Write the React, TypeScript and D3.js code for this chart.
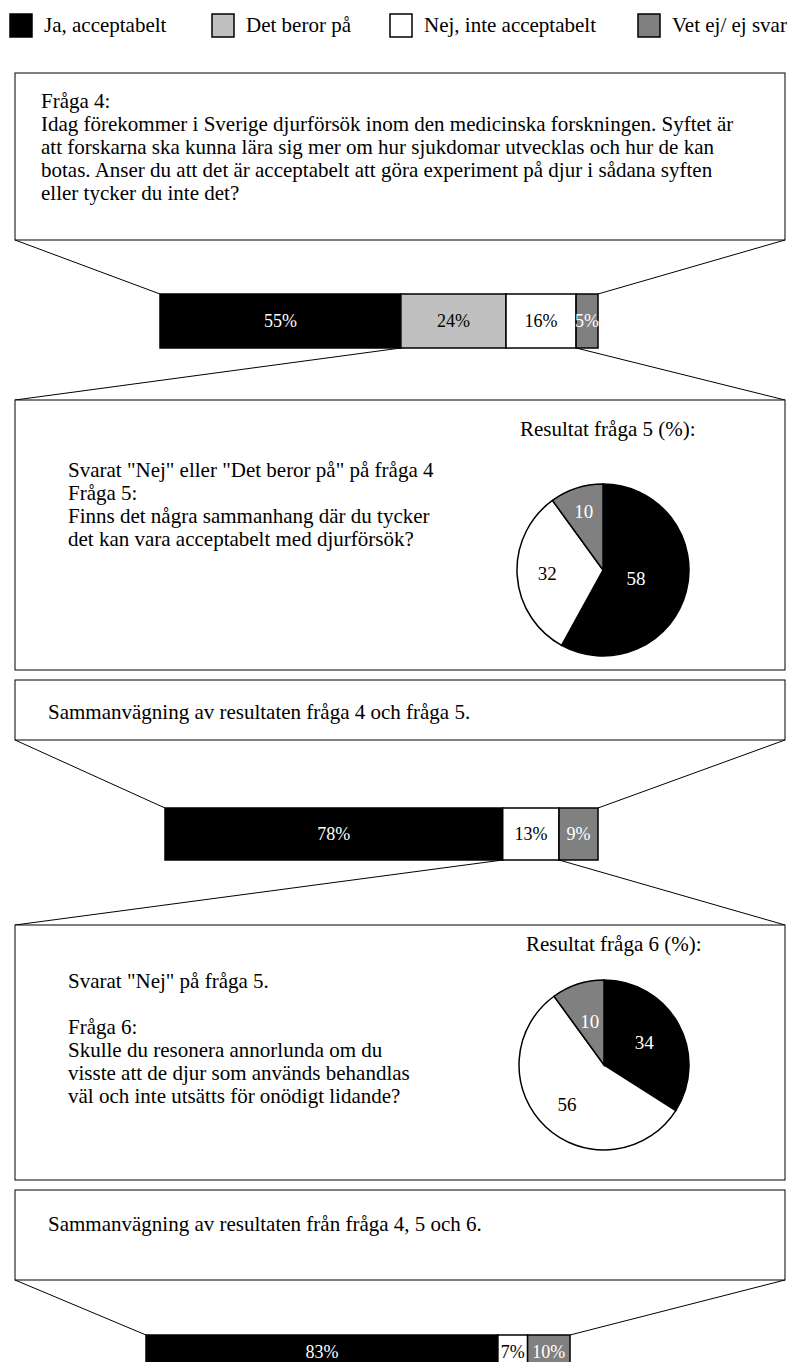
import React from "react";
import * as d3 from "d3";

const categories = ["Ja, acceptabelt", "Det beror på", "Nej, inte acceptabelt", "Vet ej/ ej svar"];
const colors = ["#000000", "#c0c0c0", "#ffffff", "#808080"];
const labelColors = ["#ffffff", "#000000", "#000000", "#ffffff"];

const bar1Values = [55, 24, 16, 5];
const bar2Values = [78, 0, 13, 9];
const bar3Values = [83, 0, 7, 10];

const pie1Values = [58, 0, 32, 10];
const pie2Values = [34, 0, 56, 10];

const q4Lines = [
  "Fråga 4:",
  "Idag förekommer i Sverige djurförsök inom den medicinska forskningen. Syftet är",
  "att forskarna ska kunna lära sig mer om hur sjukdomar utvecklas och hur de kan",
  "botas. Anser du att det är acceptabelt att göra experiment på djur i sådana syften",
  "eller tycker du inte det?",
];
const q5Lines = [
  'Svarat "Nej" eller "Det beror på" på fråga 4',
  "Fråga 5:",
  "Finns det några sammanhang där du tycker",
  "det kan vara acceptabelt med djurförsök?",
];
const q6Lines = [
  'Svarat "Nej" på fråga 5.',
  "",
  "Fråga 6:",
  "Skulle du resonera annorlunda om du",
  "visste att de djur som används behandlas",
  "väl och inte utsätts för onödigt lidande?",
];
const sum1Text = "Sammanvägning av resultaten fråga 4 och fråga 5.";
const sum2Text = "Sammanvägning av resultaten från fråga 4, 5 och 6.";
const pie1Title = "Resultat fråga 5 (%):";
const pie2Title = "Resultat fråga 6 (%):";

const W = 795;
const H = 1362;
const FONT = "'Liberation Serif', 'Times New Roman', serif";
const FS = 21;

type Box = { x0: number; x1: number; y0: number; y1: number };

const box1: Box = { x0: 15, x1: 785, y0: 73, y1: 240 };
const box2: Box = { x0: 15, x1: 785, y0: 400, y1: 670 };
const box3: Box = { x0: 15, x1: 785, y0: 680, y1: 740 };
const box4: Box = { x0: 15, x1: 785, y0: 925, y1: 1180 };
const box5: Box = { x0: 15, x1: 785, y0: 1190, y1: 1280 };

const bar1Geom = { x0: 160, x1: 598, y0: 294, y1: 348 };
const bar2Geom = { x0: 165, x1: 598, y0: 808, y1: 860 };
const bar3Geom = { x0: 146, x1: 570, y0: 1335, y1: 1368 };

function stack(values: number[]) {
  let c = 0;
  return values.map((v, i) => {
    const s = { i, v, start: c, end: c + v };
    c += v;
    return s;
  });
}

function StackBar({ values, g }: { values: number[]; g: { x0: number; x1: number; y0: number; y1: number } }) {
  const x = d3.scaleLinear().domain([0, 100]).range([g.x0, g.x1]);
  const segs = stack(values).filter((s) => s.v > 0);
  const cy = (g.y0 + g.y1) / 2;
  return (
    <g>
      {segs.map((s) => (
        <g key={s.i}>
          <rect x={x(s.start)} y={g.y0} width={x(s.end) - x(s.start)} height={g.y1 - g.y0} fill={colors[s.i]} stroke="#000" strokeWidth={1.5} />
          <text x={(x(s.start) + x(s.end)) / 2} y={cy} textAnchor="middle" dominantBaseline="central" fill={labelColors[s.i]} fontSize={18} fontFamily={FONT}>
            {s.v}%
          </text>
        </g>
      ))}
    </g>
  );
}

function BoxRect({ b }: { b: Box }) {
  return <rect x={b.x0} y={b.y0} width={b.x1 - b.x0} height={b.y1 - b.y0} fill="#fff" stroke="#000" strokeWidth={1} />;
}

function Lines({ lines, x, y, dy }: { lines: string[]; x: number; y: number; dy: number }) {
  return (
    <text fontFamily={FONT} fontSize={FS} fill="#000">
      {lines.map((l, i) => (
        <tspan key={i} x={x} y={y + i * dy}>
          {l}
        </tspan>
      ))}
    </text>
  );
}

function Pie({ values, cx, cy, r, labelR }: { values: number[]; cx: number; cy: number; r: number; labelR: number[] }) {
  const data = values.map((v, i) => ({ v, i })).filter((d) => d.v > 0);
  const arcs = d3.pie<{ v: number; i: number }>().sort(null).value((d) => d.v)(data);
  const arc = d3.arc<d3.PieArcDatum<{ v: number; i: number }>>().innerRadius(0).outerRadius(r);
  return (
    <g transform={`translate(${cx},${cy})`}>
      {arcs.map((a, k) => (
        <path key={k} d={arc(a) || ""} fill={colors[a.data.i]} stroke="#000" strokeWidth={1.5} />
      ))}
      {arcs.map((a, k) => {
        const m = (a.startAngle + a.endAngle) / 2;
        const lr = labelR[k];
        return (
          <text key={"t" + k} x={Math.sin(m) * lr} y={-Math.cos(m) * lr} textAnchor="middle" dominantBaseline="central" fontSize={19} fontFamily={FONT} fill={labelColors[a.data.i]}>
            {a.data.v}
          </text>
        );
      })}
    </g>
  );
}

function Funnel({ top, bot }: { top: [number, number, number]; bot: [number, number, number] }) {
  return (
    <g stroke="#000" strokeWidth={1}>
      <line x1={top[0]} y1={top[2]} x2={bot[0]} y2={bot[2]} />
      <line x1={top[1]} y1={top[2]} x2={bot[1]} y2={bot[2]} />
    </g>
  );
}

export default function App() {
  const x1 = d3.scaleLinear().domain([0, 100]).range([bar1Geom.x0, bar1Geom.x1]);
  const x2 = d3.scaleLinear().domain([0, 100]).range([bar2Geom.x0, bar2Geom.x1]);
  const s1 = stack(bar1Values);
  const s2 = stack(bar2Values);

  const legendX = [10, 212, 390, 638];
  return (
    <svg width={W} height={H} style={{ position: "absolute", left: 0, top: 0, background: "#fff" }} xmlns="http://www.w3.org/2000/svg">
      <rect x={0} y={0} width={W} height={H} fill="#fff" />
      {categories.map((c, i) => (
        <g key={c}>
          <rect x={legendX[i]} y={14} width={22} height={23} fill={colors[i]} stroke="#000" strokeWidth={1.5} />
          <text x={legendX[i] + 34} y={32} fontFamily={FONT} fontSize={FS}>
            {c}
          </text>
        </g>
      ))}

      <BoxRect b={box1} />
      <Lines lines={q4Lines} x={41} y={108} dy={23} />
      <Funnel top={[box1.x0, box1.x1, box1.y1]} bot={[bar1Geom.x0, bar1Geom.x1, bar1Geom.y0]} />
      <StackBar values={bar1Values} g={bar1Geom} />
      <Funnel top={[x1(s1[1].start), x1(s1[2].end), bar1Geom.y1]} bot={[box2.x0, box2.x1, box2.y0]} />

      <BoxRect b={box2} />
      <Lines lines={q5Lines} x={68} y={477} dy={23} />
      <text x={520} y={436} fontFamily={FONT} fontSize={FS}>{pie1Title}</text>
      <Pie values={pie1Values} cx={603} cy={570} r={86} labelR={[34, 56, 62]} />

      <BoxRect b={box3} />
      <text x={48} y={719} fontFamily={FONT} fontSize={FS}>{sum1Text}</text>
      <Funnel top={[box3.x0, box3.x1, box3.y1]} bot={[bar2Geom.x0, bar2Geom.x1, bar2Geom.y0]} />
      <StackBar values={bar2Values} g={bar2Geom} />
      <Funnel top={[x2(s2[2].start), x2(s2[2].end), bar2Geom.y1]} bot={[box4.x0, box4.x1, box4.y0]} />

      <BoxRect b={box4} />
      <Lines lines={q6Lines} x={68} y={988} dy={23} />
      <text x={526} y={951} fontFamily={FONT} fontSize={FS}>{pie2Title}</text>
      <Pie values={pie2Values} cx={604} cy={1065} r={85} labelR={[46, 54, 46]} />

      <BoxRect b={box5} />
      <text x={48} y={1231} fontFamily={FONT} fontSize={FS}>{sum2Text}</text>
      <Funnel top={[box5.x0, box5.x1, box5.y1]} bot={[bar3Geom.x0, bar3Geom.x1, bar3Geom.y0]} />
      <StackBar values={bar3Values} g={bar3Geom} />
    </svg>
  );
}
